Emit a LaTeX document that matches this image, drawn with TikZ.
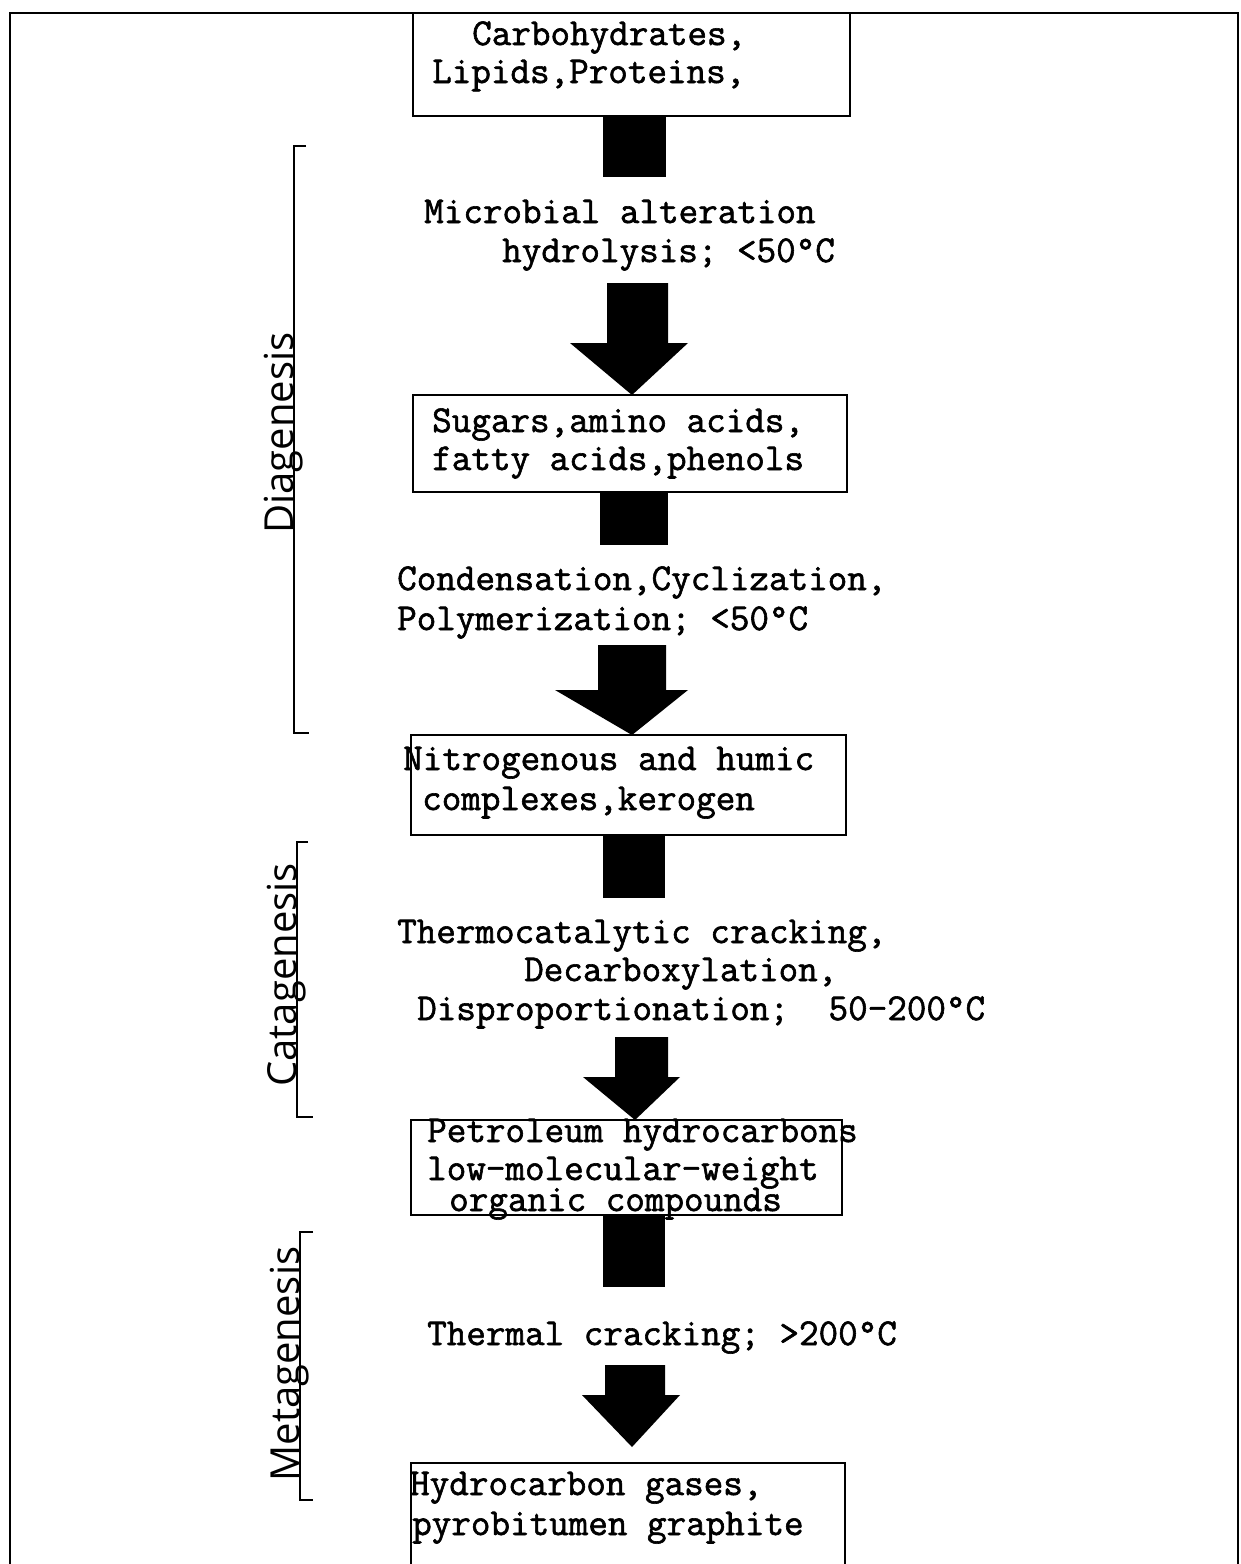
\documentclass[tikz,border=0pt]{standalone}
\usepackage{fontspec}
\setmonofont{Latin Modern Mono}[FakeBold=1.6]
\newfontfamily\handfont{Open Sans}
\begin{document}
\begin{tikzpicture}[x=1pt,y=-1pt,
  box/.style={draw, line width=1.8pt, inner sep=0pt},
  txt/.style={anchor=base west, inner sep=0pt, font=\ttfamily\fontsize{38}{40}\selectfont},
  stage/.style={rotate=90, anchor=base, inner sep=0pt, font=\handfont\fontsize{40}{44}\selectfont},
  blk/.style={fill=black},
  brk/.style={line width=1.6pt},
  frame/.style={line width=2.2pt}]
\useasboundingbox (0,0) rectangle (1240,1564);
% outer frame (open at the bottom)
\draw[frame] (10,1580) -- (10,13) -- (1238,13) -- (1238,1580);
% boxes
\node[box, minimum width=437pt, minimum height=103pt] (b1) at (631.5,64.5) {};
\node[box, minimum width=434pt, minimum height=97pt]  (b2) at (630,443.5) {};
\node[box, minimum width=435pt, minimum height=100pt] (b3) at (628.5,785) {};
\node[box, minimum width=431pt, minimum height=95pt]  (b4) at (626.5,1167.5) {};
\node[box, minimum width=434pt, minimum height=117pt] (b5) at (628,1521.5) {};
% box texts
\node[txt] (t1a) at (472,45) {Carbohydrates,};
\node[txt] (t1b) at (432,83) {Lipids,Proteins,};
\node[txt] (t2a) at (432,432) {Sugars,amino acids,};
\node[txt] (t2b) at (432,470) {fatty acids,phenols};
\node[txt] (t3a) at (403,770) {Nitrogenous and humic};
\node[txt] (t3b) at (422,810) {complexes,kerogen};
\node[txt] (t4a) at (427,1142) {Petroleum hydrocarbons};
\node[txt] (t4b) at (427,1180) {low-molecular-weight};
\node[txt] (t4c) at (449,1211) {organic compounds};
\node[txt] (t5a) at (410,1495) {Hydrocarbon gases,};
\node[txt] (t5b) at (412,1535) {pyrobitumen graphite};
% process labels
\node[txt] (p1a) at (424,223) {Microbial alteration};
\node[txt] (p1b) at (502,262) {hydrolysis; <50°C};
\node[txt] (p2a) at (397,590) {Condensation,Cyclization,};
\node[txt] (p2b) at (397,630) {Polymerization; <50°C};
\node[txt] (p3a) at (397,943) {Thermocatalytic cracking,};
\node[txt] (p3b) at (524,981) {Decarboxylation,};
\node[txt] (p3c) at (417,1020) {Disproportionation;\hspace{20pt} 50-200°C};
\node[txt] (p4a) at (427,1345) {Thermal cracking; >200°C};
% fat arrows
\fill[blk] (603,116) rectangle (666,177);
\fill[blk] (607,283) -- (668,283) -- (668,343) -- (688,343) -- (632,395) -- (570,343) -- (607,343) -- cycle;
\fill[blk] (600,492) rectangle (668,545);
\fill[blk] (598,645) -- (666,645) -- (666,690) -- (688,690) -- (632,735) -- (555,690) -- (598,690) -- cycle;
\fill[blk] (603,835) rectangle (665,898);
\fill[blk] (615,1037) -- (668,1037) -- (668,1077) -- (680,1077) -- (635,1120) -- (583,1077) -- (615,1077) -- cycle;
\fill[blk] (603,1215) rectangle (665,1287);
\fill[blk] (605,1365) -- (665,1365) -- (665,1395) -- (680,1395) -- (632,1447) -- (582,1395) -- (605,1395) -- cycle;
% stage brackets
\draw[brk] (306,146) -- (294,146) -- (294,733) -- (309,733);
\draw[brk] (308,842) -- (297,842) -- (297,1117) -- (313,1117);
\draw[brk] (313,1232) -- (300,1232) -- (300,1500) -- (313,1500);
\node[stage] (s1) at (293,433) {Diagenesis};
\node[stage] (s2) at (296,975) {Catagenesis};
\node[stage] (s3) at (299,1364) {Metagenesis};
\end{tikzpicture}
\end{document}
